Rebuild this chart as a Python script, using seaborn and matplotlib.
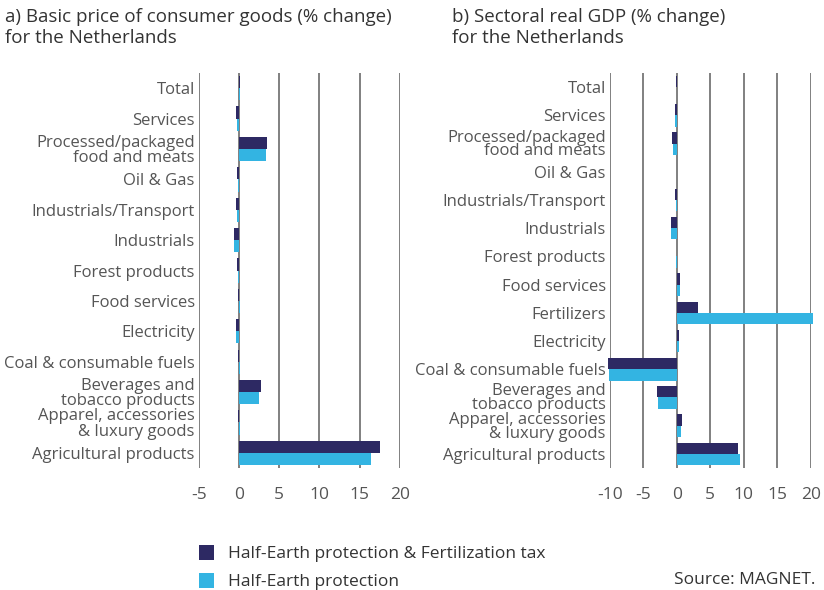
import matplotlib
matplotlib.use("Agg")
import matplotlib.pyplot as plt
from matplotlib.patches import Patch
import seaborn as sns
import pandas as pd

# ---- data ----
cats_a = ["Total", "Services", "Processed/packaged\nfood and meats", "Oil & Gas",
          "Industrials/Transport", "Industrials", "Forest products", "Food services",
          "Electricity", "Coal & consumable fuels", "Beverages and\ntobacco products",
          "Apparel, accessories\n& luxury goods", "Agricultural products"]
a_fert = [0.1, -0.4, 3.45, -0.3, -0.4, -0.6, -0.3, -0.1, -0.4, -0.1, 2.75, -0.1, 17.6]
a_half = [0.05, -0.3, 3.35, -0.2, -0.3, -0.6, -0.1, 0.1, -0.4, 0.1, 2.5, 0.05, 16.4]

cats_b = ["Total", "Services", "Processed/packaged\nfood and meats", "Oil & Gas",
          "Industrials/Transport", "Industrials", "Forest products", "Food services",
          "Fertilizers", "Electricity", "Coal & consumable fuels",
          "Beverages and\ntobacco products", "Apparel, accessories\n& luxury goods",
          "Agricultural products"]
b_fert = [-0.1, -0.3, -0.7, 0.05, -0.3, -0.85, -0.05, 0.5, 3.2, 0.35, -10.3, -2.95, 0.8, 9.2]
b_half = [0.05, -0.3, -0.6, 0.05, -0.2, -0.85, -0.2, 0.5, 20.3, 0.35, -10.1, -2.8, 0.65, 9.5]

series = ["Half-Earth protection & Fertilization tax", "Half-Earth protection"]
colors = ["#2D2963", "#33B4E2"]

ticks_a = [-5, 0, 5, 10, 15, 20]
ticks_b = [-10, -5, 0, 5, 10, 15, 20]

titles = ["a) Basic price of consumer goods (% change)\nfor the Netherlands",
          "b) Sectoral real GDP (% change)\nfor the Netherlands"]

sns.set_theme(style="white")
plt.rcParams["font.family"] = ["Open Sans", "DejaVu Sans"]
TXT = "#555555"


def make_df(cats, v1, v2):
    return pd.DataFrame({
        "category": cats * 2,
        "value": v1 + v2,
        "scenario": [series[0]] * len(cats) + [series[1]] * len(cats),
    })


fig = plt.figure(figsize=(8.24, 5.90), dpi=100)
ax_a = fig.add_axes([199 / 824, 1 - 468 / 590, (399.7 - 199) / 824, 395 / 590])
ax_b = fig.add_axes([610 / 824, 1 - 468 / 590, (810.7 - 610) / 824, 395 / 590])

for ax, cats, v1, v2, ticks, ls in [(ax_a, cats_a, a_fert, a_half, ticks_a, 0.95),
                                    (ax_b, cats_b, b_fert, b_half, ticks_b, 0.82)]:
    df = make_df(cats, v1, v2)
    sns.barplot(data=df, y="category", x="value", hue="scenario", orient="h",
                palette=colors, saturation=1, ax=ax, legend=False,
                order=cats, hue_order=series, width=0.8, linewidth=0)
    for p in ax.patches:
        p.set_clip_on(False)
    ax.set_xlim(ticks[0], ticks[-1])
    ax.set_xticks(ticks)
    ax.set_xticklabels([str(t) for t in ticks])
    for t in ticks:
        ax.axvline(t, color="#808080", lw=1.4, zorder=0)
    for s in ax.spines.values():
        s.set_visible(False)
    ax.set_xlabel("")
    ax.set_ylabel("")
    ax.tick_params(axis="x", length=0, pad=14, labelsize=12.5, labelcolor=TXT)
    ax.tick_params(axis="y", length=0, pad=3, labelsize=12, labelcolor=TXT)
    for lbl in ax.get_yticklabels():
        lbl.set_linespacing(ls)

fig.text(5 / 824, 1 - 8 / 590, titles[0], ha="left", va="top", fontsize=13.5,
         color="#333333", linespacing=1.2)
fig.text(452 / 824, 1 - 8 / 590, titles[1], ha="left", va="top", fontsize=13.5,
         color="#333333", linespacing=1.2)

handles = [Patch(facecolor=c, edgecolor="none", label=s) for c, s in zip(colors, series)]
leg = fig.legend(handles=handles, loc="upper left", bbox_to_anchor=(192 / 824, 1 - 538 / 590),
                 frameon=False, handlelength=0.85, handleheight=0.95, handletextpad=0.85,
                 labelspacing=0.6, fontsize=12.5, labelcolor="#333333", borderaxespad=0)

fig.text(815 / 824, 1 - 588 / 590, "Source: MAGNET.", ha="right", va="bottom",
         fontsize=12.5, color="#333333")

fig.savefig("out.png", dpi=100)
